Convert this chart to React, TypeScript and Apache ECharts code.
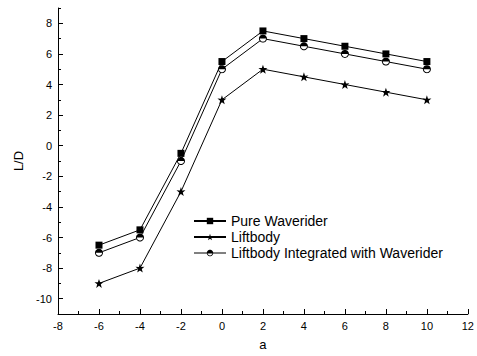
import React, { useEffect, useRef } from "react";
import * as echarts from "echarts";

const xValues = [-6, -4, -2, 0, 2, 4, 6, 8, 10];
const pureWaverider = [-6.5, -5.5, -0.5, 5.5, 7.5, 7, 6.5, 6, 5.5];
const liftbody = [-9, -8, -3, 3, 5, 4.5, 4, 3.5, 3];
const integrated = [-7, -6, -1, 5, 7, 6.5, 6, 5.5, 5];
const yTickLabels = [-10, -8, -6, -4, -2, 0, 2, 4, 6, 8];

// Half-filled circle symbol: one closed outline (top half solid, bottom half a thin ring)
function buildHalfCircle(): string {
  const n = 32;
  const c = 10;
  const R = 10;
  const r = 7.6;
  const pt = (rad: number, a: number) =>
    `${(c + rad * Math.cos(a)).toFixed(3)},${(c + rad * Math.sin(a)).toFixed(3)}`;
  let d = "";
  for (let i = 0; i <= n; i++) d += (i === 0 ? "M" : "L") + pt(R, Math.PI + (2 * Math.PI * i) / n) + " ";
  for (let i = 0; i <= n / 2; i++) d += "L" + pt(r, Math.PI - (Math.PI * i) / (n / 2)) + " ";
  d += "L" + pt(R, Math.PI) + " Z";
  return "path://" + d;
}
const halfCircle = buildHalfCircle();
const star =
  "path://M10,0 L12.35,7.24 L19.51,6.91 L13.8,11.46 L15.88,19.1 L10,14.8 L4.12,19.1 L6.2,11.46 L0.49,6.91 L7.65,7.24 Z";

const pairs = (ys: number[]) => xValues.map((x, i) => [x, ys[i]]);

const INTEGRATED = "Liftbody Integrated with Waverider";

export default function App() {
  const ref = useRef<HTMLDivElement>(null);
  useEffect(() => {
    const chart = echarts.init(ref.current!, null, { renderer: "svg" });
    const font = "Liberation Sans, Arial, sans-serif";
    const black = "#000";
    const lineSeries = (name: string, ys: number[], symbol: string, size: number) => ({
      name,
      type: "line",
      data: pairs(ys),
      symbol,
      symbolSize: size,
      showAllSymbol: true,
      lineStyle: { color: black, width: 1 },
      itemStyle: { color: black, borderColor: black, borderWidth: 0 },
      emphasis: { disabled: true },
    });
    chart.setOption({
      animation: false,
      backgroundColor: "#fff",
      textStyle: { fontFamily: font },
      grid: { left: 58, right: 9, top: 8, bottom: 40, containLabel: false },
      legend: {
        orient: "vertical",
        left: 188,
        top: 209,
        itemWidth: 32,
        itemHeight: 8,
        itemGap: 2,
        textStyle: { fontFamily: font, fontSize: 14, color: black },
        data: [
          "Pure Waverider",
          "Liftbody",
          { name: INTEGRATED, lineStyle: { color: black, width: 1, opacity: 1 } },
        ],
      },
      xAxis: {
        type: "value",
        min: -8,
        max: 12,
        interval: 2,
        name: "a",
        nameLocation: "middle",
        nameGap: 24,
        nameTextStyle: { fontFamily: font, fontSize: 13, color: black },
        axisLine: { show: true, onZero: false, lineStyle: { color: black, width: 1 } },
        axisTick: { show: true, inside: true, length: 5, lineStyle: { color: black } },
        minorTick: { show: true, splitNumber: 2, length: 3, lineStyle: { color: black } },
        axisLabel: { fontFamily: font, fontSize: 11, color: black, margin: 6 },
        splitLine: { show: false },
      },
      yAxis: [
        {
          type: "value",
          min: -11,
          max: 9,
          name: "L/D",
          nameLocation: "middle",
          nameGap: 30,
          nameRotate: 90,
          nameTextStyle: { fontFamily: font, fontSize: 13, color: black },
          axisLine: { show: true, onZero: false, lineStyle: { color: black, width: 1 } },
          axisTick: { show: true, inside: true, length: 5, customValues: yTickLabels, lineStyle: { color: black } },
          axisLabel: { fontFamily: font, fontSize: 11, color: black, margin: 6, customValues: yTickLabels },
          splitLine: { show: false },
        },
        {
          type: "value",
          min: -11,
          max: 9,
          interval: 1,
          position: "left",
          axisLine: { show: false, onZero: false },
          axisTick: { show: true, inside: true, length: 3, lineStyle: { color: black } },
          axisLabel: { show: false },
          splitLine: { show: false },
        },
      ],
      series: [
        lineSeries("Pure Waverider", pureWaverider, "rect", 7),
        lineSeries("Liftbody", liftbody, star, 9),
        // line of the integrated curve (below the markers)
        { ...lineSeries("integrated-line", integrated, "none", 0), z: 2 },
        // white discs so that the hollow half of each marker is white
        {
          ...lineSeries("integrated-fill", integrated, "circle", 7.6),
          lineStyle: { width: 0, opacity: 0 },
          itemStyle: { color: "#fff", borderWidth: 0 },
          z: 3,
        },
        // half-filled markers (legend entry)
        {
          ...lineSeries(INTEGRATED, integrated, halfCircle, 8),
          lineStyle: { color: black, width: 0 },
          z: 4,
        },
      ],
    });
    return () => chart.dispose();
  }, []);
  return (
    <div
      ref={ref}
      style={{ position: "fixed", left: 0, top: 0, width: 477, height: 356 }}
    />
  );
}
